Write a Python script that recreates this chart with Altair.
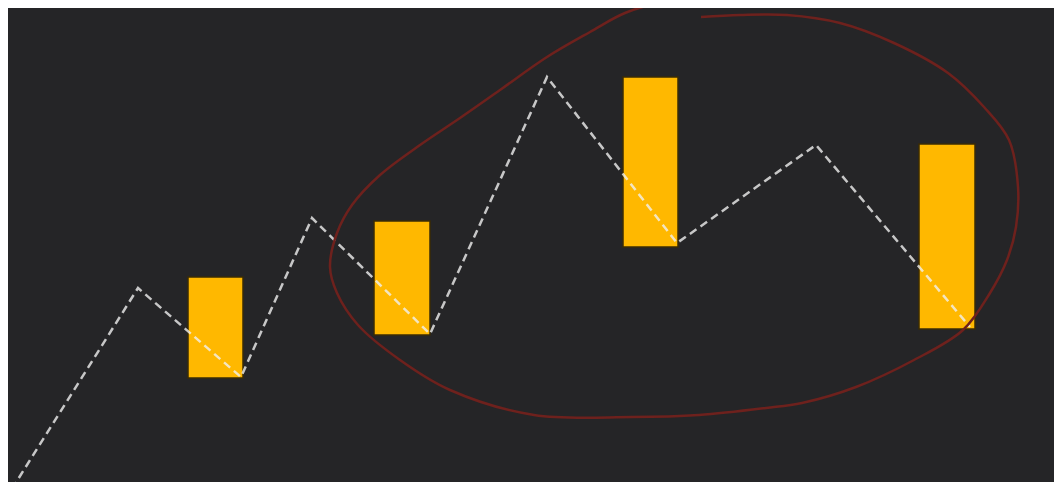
import altair as alt
import pandas as pd

# zigzag swing points (time, price)
wave_t = [0.5, 13.8, 24.1, 31.2, 43.0, 54.7, 67.7, 81.6, 97.0]
wave_price = [-1.0, 20.2, 11.3, 27.2, 15.6, 41.3, 24.7, 34.5, 16.3]

# highlighted blocks
block_t0 = [18.8, 37.4, 62.3, 91.9]
block_t1 = [24.3, 43.0, 67.8, 97.5]
block_low = [11.2, 15.5, 24.3, 16.1]
block_high = [21.3, 26.9, 41.3, 34.6]

# hand drawn loop around the last swings
loop_t = [68.3, 66.1, 62.5, 59.0, 54.7, 50.0, 46.0, 42.0, 38.0, 35.2, 33.7, 33.0,
          33.7, 35.8, 40.0, 45.0, 53.4, 63.2, 69.9, 76.6, 80.2, 85.6, 91.4, 96.3,
          99.0, 100.7, 101.6, 101.8, 100.9, 98.4, 94.8, 89.4, 84.0, 78.7, 74.0, 70.1]
loop_price = [48.8, 48.7, 47.7, 45.8, 43.3, 40.0, 37.2, 34.5, 31.5, 28.5, 25.7, 22.3,
              19.7, 16.5, 13.0, 10.0, 7.5, 7.3, 7.5, 8.2, 8.7, 10.3, 13.0, 16.0,
              19.7, 23.0, 26.3, 30.3, 35.0, 38.3, 41.7, 44.7, 46.7, 47.5, 47.5, 47.3]

wave = pd.DataFrame({"t": wave_t, "price": wave_price, "i": range(len(wave_t))})
blocks = pd.DataFrame({"t0": block_t0, "t1": block_t1, "low": block_low, "high": block_high})
loop = pd.DataFrame({"t": loop_t, "price": loop_price, "i": range(len(loop_t))})

x_scale = alt.Scale(domain=[0.8, 105.4], nice=False, zero=False)
y_scale = alt.Scale(domain=[0.8, 48.2], nice=False, zero=False)

bars = alt.Chart(blocks).mark_rect(
    color="#ffb800", stroke="#3a2b06", strokeWidth=1.5, clip=True
).encode(
    x=alt.X("t0:Q", scale=x_scale, axis=None),
    x2="t1:Q",
    y=alt.Y("low:Q", scale=y_scale, axis=None),
    y2="high:Q",
)

line = alt.Chart(wave).mark_line(
    color="#f0f0f0", strokeWidth=2.5, strokeDash=[8, 5], opacity=0.8, clip=True
).encode(
    x=alt.X("t:Q", scale=x_scale, axis=None),
    y=alt.Y("price:Q", scale=y_scale, axis=None),
    order="i:Q",
)

ring = alt.Chart(loop).mark_line(
    color="#6e211d", strokeWidth=2.5, interpolate="catmull-rom", clip=True
).encode(
    x=alt.X("t:Q", scale=x_scale, axis=None),
    y=alt.Y("price:Q", scale=y_scale, axis=None),
    order="i:Q",
)

chart = (bars + line + ring).properties(
    width=1046,
    height=474,
    background="#252527",
    padding=0,
    autosize=alt.AutoSizeParams(type="none"),
).configure_view(stroke=None)

chart.save("out.html", embed_options={"renderer": "svg", "actions": False})
